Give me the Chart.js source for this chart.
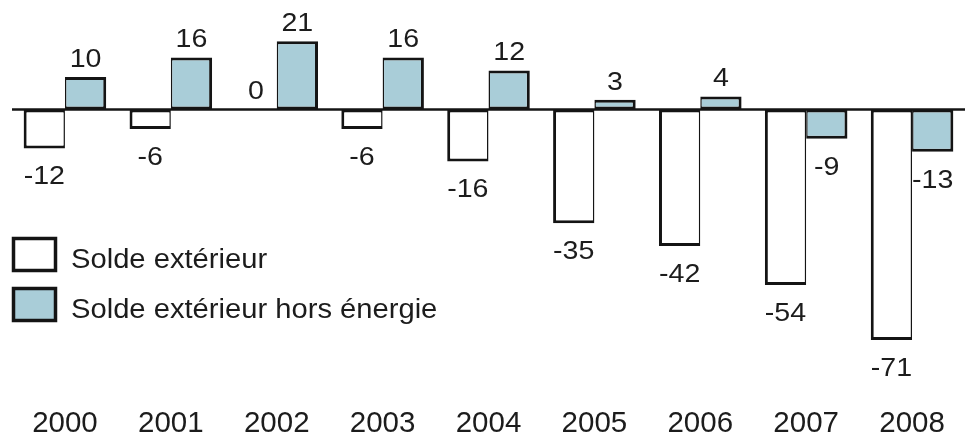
<!DOCTYPE html>
<html>
<head>
<meta charset="utf-8">
<script src="https://cdn.jsdelivr.net/npm/chart.js@4/dist/chart.umd.min.js"></script>
<style>
  body { margin: 0; background: #fff; }
</style>
</head>
<body>
<canvas id="solde" width="965" height="441"></canvas>
<script>
/* solde extérieur, en milliards d'euros */
const annees = ["2000", "2001", "2002", "2003", "2004", "2005", "2006", "2007", "2008"];
const soldeExterieur = [-12, -6, 0, -6, -16, -35, -42, -54, -71];
const soldeHorsEnergie = [10, 16, 21, 16, 12, 3, 4, -9, -13];
const nomsSeries = ["Solde extérieur", "Solde extérieur hors énergie"];

const police = "'Liberation Sans', Arial, sans-serif";
const bleu = "#a9cdd8";
const noir = "#141414";

// texte un peu élargi comme sur l'original
function texteLarge(ctx, txt, x, y, sx) {
  ctx.save();
  ctx.translate(x, y);
  ctx.scale(sx, 1);
  ctx.fillText(txt, 0, 0);
  ctx.restore();
}

/* valeurs, axe du zéro et légende dessinés à la main */
const etiquettes = {
  id: "etiquettes",
  afterDatasetsDraw(chart) {
    const ctx = chart.ctx;
    const area = chart.chartArea;
    const y0 = chart.scales.y.getPixelForValue(0);

    ctx.save();
    ctx.strokeStyle = noir;
    ctx.lineWidth = 2.5;
    ctx.beginPath();
    ctx.moveTo(area.left, y0);
    ctx.lineTo(area.right, y0);
    ctx.stroke();

    ctx.fillStyle = "#1c1c1c";
    ctx.font = "26px " + police;
    ctx.textAlign = "center";
    ctx.textBaseline = "alphabetic";
    chart.data.datasets.forEach((ds, i) => {
      chart.getDatasetMeta(i).data.forEach((bar, j) => {
        const v = ds.data[j];
        const y = v >= 0 ? bar.y - 10 : bar.y + 36;
        texteLarge(ctx, String(v), bar.x, y, 1.1);
      });
    });

    // légende
    ctx.textAlign = "left";
    ctx.font = "27px " + police;
    chart.data.datasets.forEach((ds, i) => {
      const top = 237 + i * 50;
      ctx.fillStyle = ds.backgroundColor;
      ctx.fillRect(13.5, top + 1.5, 42, 32);
      ctx.strokeStyle = noir;
      ctx.lineWidth = 3.5;
      ctx.strokeRect(13.5, top + 1.5, 42, 32);
      ctx.fillStyle = "#1c1c1c";
      texteLarge(ctx, ds.label, 71, top + 31, 1.08);
    });
    ctx.restore();
  },
};

new Chart(document.getElementById("solde"), {
  type: "bar",
  data: {
    labels: annees,
    datasets: [
      {
        label: nomsSeries[0],
        data: soldeExterieur,
        backgroundColor: "#ffffff",
        borderColor: noir,
        borderWidth: { top: 3, bottom: 3, left: 3, right: 1.5 },
        borderSkipped: false,
      },
      {
        label: nomsSeries[1],
        data: soldeHorsEnergie,
        backgroundColor: bleu,
        borderColor: noir,
        borderWidth: { top: 3, bottom: 3, left: 1.5, right: 3 },
        borderSkipped: false,
      },
    ],
  },
  options: {
    responsive: false,
    animation: false,
    layout: { padding: { top: 12, left: 12, right: 0, bottom: -10 } },
    categoryPercentage: 0.78,
    barPercentage: 1,
    plugins: {
      legend: { display: false },
      tooltip: { enabled: false },
    },
    scales: {
      x: {
        grid: { display: false, drawTicks: false },
        border: { display: false },
        ticks: {
          color: "#1c1c1c",
          font: { family: police, size: 29.5 },
          padding: 9,
          maxRotation: 0,
        },
      },
      y: {
        display: false,
        min: -88.7,
        max: 30,
      },
    },
  },
  plugins: [etiquettes],
});
</script>
</body>
</html>
